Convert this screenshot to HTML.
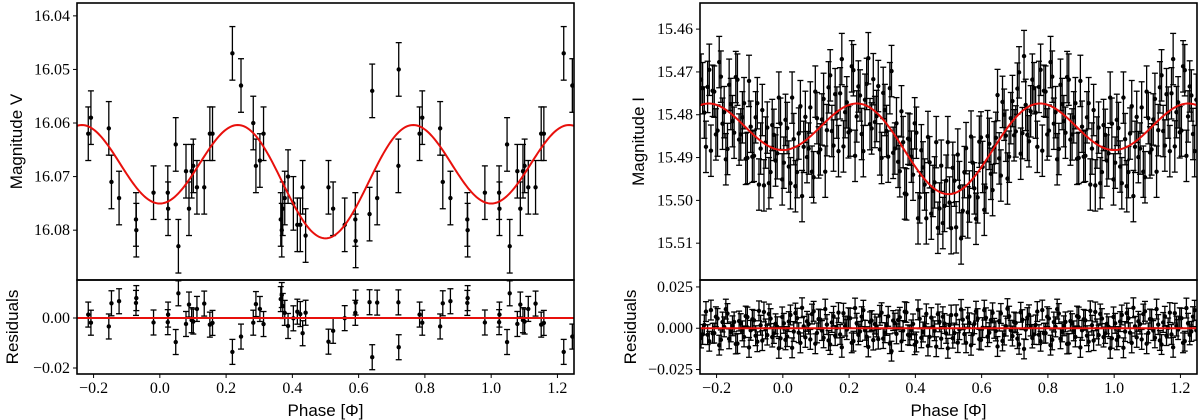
<!DOCTYPE html>
<html><head><meta charset="utf-8">
<style>
html,body{margin:0;padding:0;background:#fff;}
svg{display:block;}
.tk{font-family:"Liberation Serif",serif;font-size:16px;fill:#000;}
.lb{font-family:"Liberation Sans",sans-serif;font-size:17px;fill:#000;}
</style></head>
<body>
<svg id="chart" width="1200" height="420" viewBox="0 0 1200 420" xmlns="http://www.w3.org/2000/svg"></svg>
<script>
// Left panel (V band) data: unique phases in [0,1)
const vPhase = [0.784,0.792,0.846,0.854,0.877,0.928,0.929,0.981,0.024,0.025,0.048,0.056,0.079,0.088,0.096,0.101,0.112,0.134,0.151,0.159,0.219,0.245,0.282,0.290,0.302,0.313,0.365,0.368,0.371,0.377,0.387,0.403,0.415,0.424,0.431,0.440,0.509,0.523,0.558,0.590,0.591,0.633,0.641,0.656,0.720,0.721];
const vMag = [16.062,16.059,16.061,16.071,16.074,16.078,16.080,16.073,16.073,16.076,16.064,16.083,16.069,16.076,16.069,16.068,16.072,16.072,16.062,16.062,16.047,16.053,16.060,16.068,16.067,16.062,16.078,16.080,16.076,16.074,16.070,16.075,16.079,16.079,16.072,16.081,16.072,16.076,16.079,16.078,16.082,16.077,16.054,16.074,16.068,16.050];
const vErr = 0.005;
const vModelCoef = [16.0694,-0.00325,0.00888];
// Right panel (I band) data
const iPhase = [];
for (let k=0;k<100;k++) iPhase.push(+(0.003+0.01*k).toFixed(3));
for (let k=0;k<100;k++) iPhase.push(+(0.008+0.01*k).toFixed(3));
const iMag = [15.4912,15.4831,15.4960,15.4857,15.4934,15.4780,15.4875,15.4899,15.4783,15.4946,
15.4808,15.4881,15.4763,15.4836,15.4708,15.4872,15.4795,15.4750,15.4874,15.4771,
15.4837,15.4696,15.4804,15.4755,15.4885,15.4728,15.4822,15.4717,15.4803,15.4881,
15.4749,15.4838,15.4738,15.4889,15.4820,15.4932,15.4864,15.4986,15.4858,15.4940,
15.4842,15.4993,15.4923,15.5042,15.4911,15.4978,15.4864,15.5019,15.5053,15.4954,
15.5005,15.4924,15.5063,15.4969,15.5024,15.4878,15.4991,15.4912,15.5043,15.4863,
15.4922,15.4970,15.4868,15.4976,15.4854,15.4902,15.4770,15.4849,15.4898,15.4768,
15.4839,15.4701,15.4843,15.4777,15.4862,15.4718,15.4795,15.4735,15.4884,15.4746,
15.4837,15.4711,15.4794,15.4880,15.4775,15.4842,15.4718,15.4846,15.4773,15.4901,
15.4828,15.4896,15.4773,15.4879,15.4965,15.4830,15.4934,15.4847,15.4890,15.4821,
15.4812,15.4921,15.4760,15.4967,15.4844,15.4990,15.4805,15.4879,15.4933,15.4746,
15.4888,15.4811,15.4933,15.4736,15.4838,15.4752,15.4885,15.4670,15.4794,15.4841,
15.4687,15.4896,15.4734,15.4845,15.4765,15.4668,15.4832,15.4817,15.4733,15.4901,
15.4789,15.4898,15.4698,15.4879,15.4910,15.4792,15.4984,15.4856,15.4898,15.4820,
15.5042,15.4883,15.4963,15.4852,15.5031,15.4958,15.5064,15.4919,15.5013,15.4864,
15.5065,15.4954,15.4893,15.5089,15.4934,15.5028,15.4851,15.4972,15.4993,15.4853,
15.5022,15.4850,15.4938,15.4876,15.4754,15.4942,15.4800,15.4949,15.4808,15.4848,
15.4739,15.4891,15.4663,15.4847,15.4792,15.4738,15.4875,15.4695,15.4744,15.4846,
15.4677,15.4821,15.4904,15.4730,15.4815,15.4712,15.4858,15.4806,15.4903,15.4721,
15.4898,15.4806,15.4963,15.4789,15.4865,15.4960,15.4824,15.4907,15.4760,15.4951];
const iErr = 0.006;
const iModelCoef = [15.4856,-0.00515,0.0078];
const xTicks = [-0.2,0.0,0.2,0.4,0.6,0.8,1.0,1.2];

const svg = document.getElementById('chart');
const NS = 'http://www.w3.org/2000/svg';
function mk(tag, attrs, parent){
  const e = document.createElementNS(NS, tag);
  for (const k in attrs) e.setAttribute(k, attrs[k]);
  (parent||svg).appendChild(e); return e;
}
function model(c,p){return c[0]+c[1]*Math.cos(2*Math.PI*p)+c[2]*Math.cos(4*Math.PI*p);}

function panel(cfg){
  const g = mk('g',{});
  
  
  const X0=cfg.x0, X1=cfg.x1, T=3, D=280, B=374;
  const sx = p => X0 + (p+0.25)/1.5*(X1-X0);
  const sy = m => T + (m-cfg.yMin)/(cfg.yMax-cfg.yMin)*(D-T);
  const sr = r => D + (cfg.rMax-r)/(cfg.rMax-cfg.rMin)*(B-D);
  const pts=[];
  cfg.phase.forEach((p,i)=>{[-1,0,1].forEach(s=>{const q=p+s; if(q>=-0.25&&q<=1.25) pts.push([q,cfg.mag[i],cfg.mag[i]-model(cfg.coef,p)]);});});
  const mainG = mk('g',{},g);
  
  
  const resG = mk('g',{},g);
  
  
  function eb(parent,x,y1,y2,yc){
    mk('line',{x1:x,x2:x,y1:y1,y2:y2,stroke:'#000','stroke-width':1.3},parent);
    mk('line',{x1:x-3,x2:x+3,y1:y1,y2:y1,stroke:'#000','stroke-width':1.3},parent);
    mk('line',{x1:x-3,x2:x+3,y1:y2,y2:y2,stroke:'#000','stroke-width':1.3},parent);
    mk('circle',{cx:x,cy:yc,r:2.2,fill:'#000'},parent);
  }
  const clipId = cfg.name+'-clip', clipId2=cfg.name+'-clip2';
  const defs = mk('defs',{},g);
  const cp = mk('clipPath',{id:clipId},defs); mk('rect',{x:X0,y:T,width:X1-X0,height:D-T},cp);
  const cp2 = mk('clipPath',{id:clipId2},defs); mk('rect',{x:X0,y:D,width:X1-X0,height:B-D},cp2);
  mainG.setAttribute('clip-path','url(#'+clipId+')');
  resG.setAttribute('clip-path','url(#'+clipId2+')');
  pts.forEach(([q,m,r])=>{
    eb(mainG,sx(q),sy(m-cfg.err),sy(m+cfg.err),sy(m));
    eb(resG,sx(q),sr(r+cfg.err),sr(r-cfg.err),sr(r));
  });
  let d='';
  for(let i=0;i<=300;i++){const p=-0.25+1.5*i/300; d+=(i?'L':'M')+sx(p).toFixed(2)+','+sy(model(cfg.coef,p)).toFixed(2);}
  const c = mk('path',{d:d,fill:'none',stroke:'#e8100c','stroke-width':2},g);
  
  
  const z = mk('line',{x1:X0,x2:X1,y1:sr(0),y2:sr(0),stroke:'#e8100c','stroke-width':2},g);
  
  
  const f1 = mk('rect',{x:X0,y:T,width:X1-X0,height:D-T,fill:'none',stroke:'#000','stroke-width':1.6},g);
  
  
  const f2 = mk('rect',{x:X0,y:D,width:X1-X0,height:B-D,fill:'none',stroke:'#000','stroke-width':1.6},g);
  
  
  cfg.yTicks.forEach(v=>{const y=sy(v);
    mk('line',{x1:X0-4,x2:X0,y1:y,y2:y,stroke:'#000','stroke-width':1},g);
    const t=mk('text',{x:X0-7,y:y+5,'text-anchor':'end',class:'tk'},g); t.textContent=v.toFixed(cfg.yDec);
    
    });
  cfg.rTicks.forEach(v=>{const y=sr(v);
    mk('line',{x1:X0-4,x2:X0,y1:y,y2:y,stroke:'#000','stroke-width':1},g);
    const t=mk('text',{x:X0-7,y:y+5,'text-anchor':'end',class:'tk'},g); t.textContent=(v<0?'\u2212':'')+Math.abs(v).toFixed(cfg.rDec);
    
    });
  xTicks.forEach(v=>{const x=sx(v);
    mk('line',{x1:x,x2:x,y1:B,y2:B+4,stroke:'#000','stroke-width':1},g);
    const t=mk('text',{x:x,y:B+19,'text-anchor':'middle',class:'tk'},g); t.textContent=(v<0?'\u2212':'')+Math.abs(v).toFixed(1);
    
    });
  const xl=mk('text',{x:(X0+X1)/2,y:416,'text-anchor':'middle',class:'lb'},g); xl.textContent='Phase [\u03A6]';
  
  
  const yl=mk('text',{x:0,y:0,'text-anchor':'middle',class:'lb',transform:'translate('+cfg.ylx+','+((T+D)/2)+') rotate(-90)'},g); yl.textContent=cfg.ylabel;
  
  
  const rl=mk('text',{x:0,y:0,'text-anchor':'middle',class:'lb',transform:'translate('+cfg.rlx+','+((D+B)/2)+') rotate(-90)'},g); rl.textContent='Residuals';
  
  
}
panel({name:'v-band-panel',x0:77,x1:574,yMin:16.0376,yMax:16.0893,rMin:-0.0224,rMax:0.0152,
  phase:vPhase,mag:vMag,err:vErr,coef:vModelCoef,yTicks:[16.04,16.05,16.06,16.07,16.08],yDec:2,
  rTicks:[-0.02,0.00],rDec:2,ylabel:'Magnitude V',ylx:22,rlx:18});
panel({name:'i-band-panel',x0:700,x1:1197,yMin:15.4539,yMax:15.5186,rMin:-0.0277,rMax:0.0292,
  phase:iPhase,mag:iMag,err:iErr,coef:iModelCoef,yTicks:[15.46,15.47,15.48,15.49,15.50,15.51],yDec:2,
  rTicks:[-0.025,0.000,0.025],rDec:3,ylabel:'Magnitude I',ylx:644,rlx:636});
</script>
</body></html>
